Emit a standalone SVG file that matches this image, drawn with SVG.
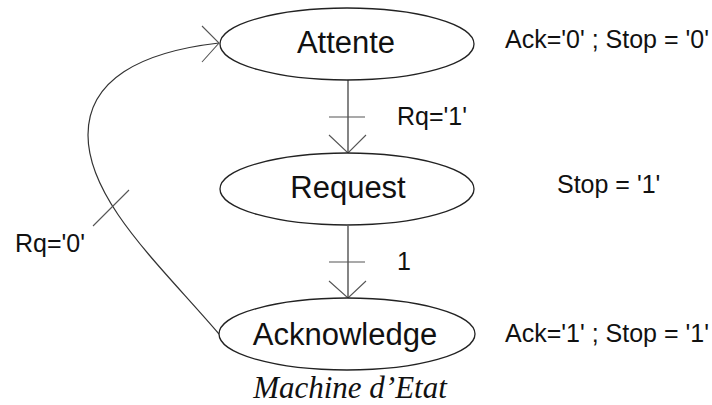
<svg xmlns="http://www.w3.org/2000/svg" width="712" height="405" viewBox="0 0 712 405">
<style>
.st{fill:#fff;stroke:#222;stroke-width:1.3}
.ln{fill:none;stroke:#333;stroke-width:1.2}
.tk{fill:none;stroke:#555;stroke-width:1.1}
.sn{font-family:"Liberation Sans",Arial,sans-serif;font-size:31px;fill:#111;text-anchor:middle}
.lb{font-family:"Liberation Sans",Arial,sans-serif;font-size:25px;fill:#111}
.cap{font-family:"Liberation Serif","Times New Roman",serif;font-style:italic;font-size:31px;fill:#111;text-anchor:middle}
</style>
<rect width="712" height="405" fill="#fff"/>
<g id="connectors">
<line class="ln" x1="348" y1="80" x2="348" y2="153"/>
<line class="tk" x1="329" y1="117" x2="365" y2="117"/>
<polyline class="tk" points="329,135 348,153 366,135"/>
<line class="ln" x1="348" y1="226" x2="348" y2="298"/>
<line class="tk" x1="329" y1="262" x2="365" y2="262"/>
<polyline class="tk" points="329,281 348,298 366,281"/>
<path class="ln" d="M219,334 C160,265 88,200 88,135 C88,80 140,52 219,43"/>
<line class="tk" x1="93" y1="226" x2="129" y2="190"/>
<polyline class="tk" points="202,26 219,43 202,62"/>
<text class="lb" x="397" y="125">Rq='1'</text>
<text class="lb" x="397" y="270">1</text>
<text class="lb" x="15" y="252">Rq='0'</text>
</g>
<g id="attente">
<ellipse class="st" cx="347" cy="44" rx="127" ry="36"/>
<text class="sn" x="346" y="53">Attente</text>
<text class="lb" x="505" y="48">Ack='0' ; Stop = '0'</text>
</g>
<g id="request">
<ellipse class="st" cx="347" cy="189" rx="127" ry="36"/>
<text class="sn" x="348" y="198">Request</text>
<text class="lb" x="557" y="193">Stop = '1'</text>
</g>
<g id="acknowledge">
<ellipse class="st" cx="347" cy="334" rx="128" ry="36"/>
<text class="sn" x="345" y="345">Acknowledge</text>
<text class="lb" x="505" y="342">Ack='1' ; Stop = '1'</text>
</g>
<text class="cap" x="350" y="398">Machine d’Etat</text>
</svg>
